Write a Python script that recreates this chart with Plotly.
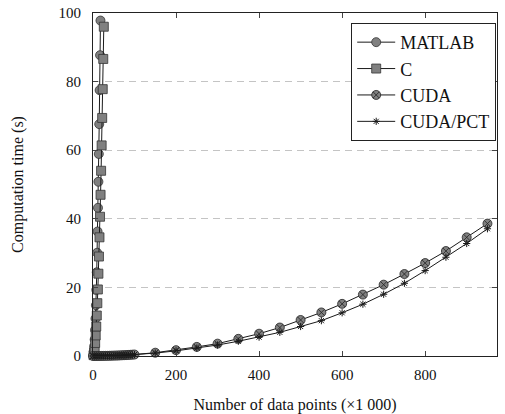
import plotly.graph_objects as go

# ---- data ----
matlab_x = [1, 2, 3, 4, 5, 6, 7, 8, 9, 10, 11, 12, 13, 14, 15, 16, 17, 18]
matlab_y = [0.3, 1.2, 2.7, 4.8, 7.6, 10.9, 14.8, 19.3, 24.4, 30.1, 36.3, 43.2, 50.8, 58.9, 67.6, 77.5, 87.7, 97.8]

c_x = [1.3, 2.6, 3.9, 5.2, 6.5, 7.8, 9.1, 10.4, 11.7, 13.0, 14.3, 15.6, 16.9, 18.2, 19.5, 20.8, 22.1, 23.4, 24.7, 26.0]
c_y = [0.25, 1.0, 2.2, 3.8, 6.0, 8.6, 11.8, 15.4, 19.4, 24.0, 29.0, 34.6, 40.6, 47.0, 54.0, 61.4, 69.4, 77.8, 86.6, 96.0]

cuda_x = [0, 5, 10, 15, 20, 25, 30, 35, 40, 45, 50, 55, 60, 65, 70, 75, 80, 85, 90, 95, 100,
          150, 200, 250, 300, 350, 400, 450, 500, 550, 600, 650, 700, 750, 800, 850, 900, 950]
cuda_y = [0.0, 0.0, 0.0, 0.01, 0.02, 0.03, 0.04, 0.05, 0.07, 0.09, 0.11, 0.13, 0.15, 0.18, 0.21, 0.24, 0.27, 0.31, 0.35, 0.39, 0.43,
          0.96, 1.7, 2.65, 3.6, 5.0, 6.5, 8.3, 10.5, 12.7, 15.2, 17.9, 20.8, 23.9, 27.1, 30.6, 34.6, 38.6]

pct_x = [0, 5, 10, 15, 20, 25, 30, 35, 40, 45, 50, 55, 60, 65, 70, 75, 80, 85, 90, 95, 100,
         150, 200, 250, 300, 350, 400, 450, 500, 550, 600, 650, 700, 750, 800, 850, 900, 950]
pct_y = [0.0, 0.0, 0.0, 0.01, 0.02, 0.03, 0.04, 0.05, 0.06, 0.08, 0.1, 0.12, 0.14, 0.16, 0.19, 0.22, 0.25, 0.28, 0.32, 0.36, 0.4,
         0.85, 1.5, 2.3, 3.2, 4.3, 5.5, 6.9, 8.6, 10.3, 12.6, 15.1, 18.0, 21.2, 24.9, 28.8, 32.8, 37.1]

x_ticks = [0, 200, 400, 600, 800]
y_ticks = [0, 20, 40, 60, 80, 100]

FONT = "Liberation Serif, Times New Roman, serif"
GRAY = "#808080"
LINE = "#1a1a1a"
TXT = "#111111"

fig = go.Figure()
fig.add_trace(go.Scatter(
    x=matlab_x, y=matlab_y, name="MATLAB", mode="lines+markers",
    line=dict(color=LINE, width=1),
    marker=dict(symbol="circle", size=9, color=GRAY, line=dict(color="#333333", width=0.8)),
    cliponaxis=False,
))
fig.add_trace(go.Scatter(
    x=c_x, y=c_y, name="C", mode="lines+markers",
    line=dict(color=LINE, width=1),
    marker=dict(symbol="square", size=9, color=GRAY, line=dict(color="#333333", width=0.8)),
    cliponaxis=False,
))
fig.add_trace(go.Scatter(
    x=cuda_x, y=cuda_y, name="CUDA", mode="lines+markers",
    line=dict(color=LINE, width=1),
    marker=dict(symbol="circle-x", size=9, color=GRAY, line=dict(color="#222222", width=0.8)),
    cliponaxis=False,
))
fig.add_trace(go.Scatter(
    x=pct_x, y=pct_y, name="CUDA/PCT", mode="lines+markers",
    line=dict(color=LINE, width=1),
    marker=dict(symbol="asterisk-open", size=6, color=LINE, line=dict(color=LINE, width=1)),
    cliponaxis=False,
))

axis_common = dict(
    showline=True, linecolor="#222222", linewidth=1, mirror="ticks",
    ticks="inside", ticklen=5, tickcolor="#444444",
    tickfont=dict(family=FONT, size=15, color=TXT),
    zeroline=False, automargin=False,
)

fig.update_xaxes(
    range=[0, 973], tickvals=x_ticks, showgrid=False,
    title=dict(text="Number of data points (×1 000)", font=dict(family=FONT, size=16, color=TXT), standoff=18),
    ticklabelstandoff=5,
    **axis_common,
)
fig.update_yaxes(
    range=[0, 100], tickvals=y_ticks, showgrid=True,
    gridcolor="#c4c4c4", griddash="7px,5px", gridwidth=1,
    title=dict(text="Computation time (s)", font=dict(family=FONT, size=16, color=TXT), standoff=30),
    ticklabelstandoff=8,
    **axis_common,
)

fig.update_layout(
    width=505, height=414,
    margin=dict(l=93, r=8, t=13, b=58),
    plot_bgcolor="white", paper_bgcolor="white",
    font=dict(family=FONT, size=15, color=TXT),
    showlegend=True,
    legend=dict(
        x=0.998, y=0.971, xanchor="right", yanchor="top",
        bgcolor="white", bordercolor="#222222", borderwidth=1,
        font=dict(family=FONT, size=18, color=TXT),
        tracegroupgap=0, itemwidth=38,
    ),
)

fig.write_html("out.html", post_script="document.body.style.margin='0';",
               config={"displayModeBar": False})
